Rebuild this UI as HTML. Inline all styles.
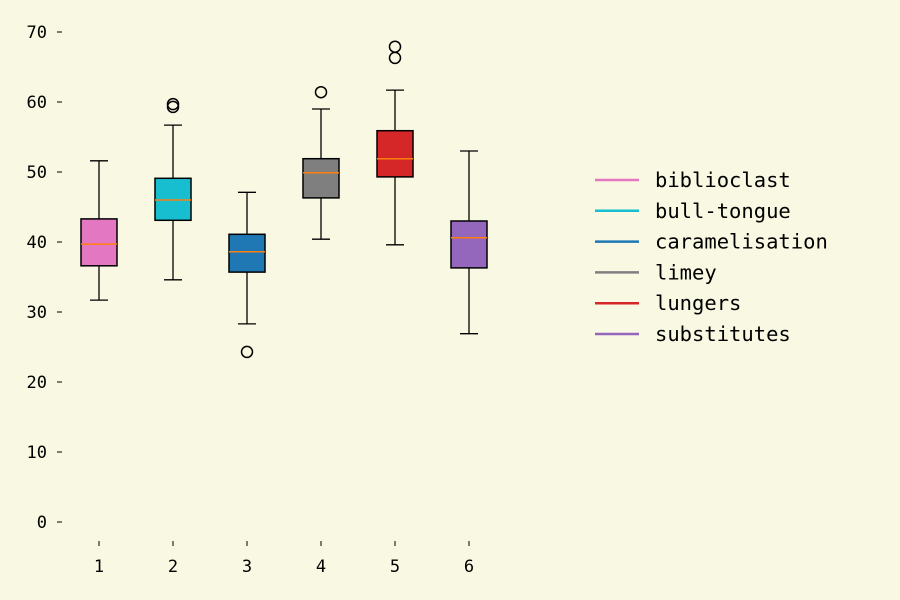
<!DOCTYPE html>
<html><head><meta charset="utf-8"><style>
body{margin:0;background:#f9f8e3;}
svg{display:block;font-family:"DejaVu Sans Mono","Liberation Mono",monospace;}
</style></head><body>
<svg id="chart" width="900" height="600"></svg>
<script>
const categories=[1,2,3,4,5,6];
const lowWhisker=[31.7,34.6,28.3,40.4,39.6,26.9];
const q1=[36.6,43.1,35.7,46.3,49.3,36.3];
const medians=[39.7,46.0,38.6,49.9,51.9,40.6];
const q3=[43.3,49.1,41.1,51.9,55.9,43.0];
const highWhisker=[51.6,56.7,47.1,59.0,61.7,53.0];
const outliers=[[],[59.7,59.3],[24.3],[61.4],[67.9,66.3],[]];
const seriesNames=["biblioclast","bull-tongue","caramelisation","limey","lungers","substitutes"];
const colors=["#e377c2","#17becf","#1f77b4","#7f7f7f","#d62728","#9467bd"];
const yTicks=[0,10,20,30,40,50,60,70];
const NS="http://www.w3.org/2000/svg";
const svg=document.getElementById('chart');
const y=v=>522-7*v;
const x=c=>99+(c-1)*74;
function mk(t,a,p){const e=document.createElementNS(NS,t);for(const k in a)e.setAttribute(k,a[k]);(p||svg).appendChild(e);return e;}
yTicks.forEach(t=>{
 const g=mk('g',{});
 
 
 mk('line',{x1:57,x2:62,y1:y(t),y2:y(t),stroke:'#000','stroke-width':1},g);
 const tx=mk('text',{x:47,y:y(t)+6,'text-anchor':'end','font-size':17},g);tx.textContent=t;
});
categories.forEach((c,i)=>{
 const g=mk('g',{});
 
 
 const cx=x(c),w=18;
 mk('line',{x1:cx,x2:cx,y1:y(q1[i]),y2:y(lowWhisker[i]),stroke:'#000','stroke-width':1.3},g);
 mk('line',{x1:cx,x2:cx,y1:y(q3[i]),y2:y(highWhisker[i]),stroke:'#000','stroke-width':1.3},g);
 mk('line',{x1:cx-9,x2:cx+9,y1:y(lowWhisker[i]),y2:y(lowWhisker[i]),stroke:'#000','stroke-width':1.3},g);
 mk('line',{x1:cx-9,x2:cx+9,y1:y(highWhisker[i]),y2:y(highWhisker[i]),stroke:'#000','stroke-width':1.3},g);
 mk('rect',{x:cx-w,y:y(q3[i]),width:2*w,height:y(q1[i])-y(q3[i]),fill:colors[i],stroke:'#000','stroke-width':1.5},g);
 mk('line',{x1:cx-w,x2:cx+w,y1:y(medians[i]),y2:y(medians[i]),stroke:'#ff7f0e','stroke-width':1.5},g);
 outliers[i].forEach(o=>mk('circle',{cx:cx,cy:y(o),r:5.5,fill:'none',stroke:'#000','stroke-width':1.5},g));
 mk('line',{x1:cx,x2:cx,y1:541,y2:546,stroke:'#000','stroke-width':1},g);
 const tx=mk('text',{x:cx,y:572,'text-anchor':'middle','font-size':17},g);tx.textContent=c;
});
seriesNames.forEach((n,i)=>{
 const g=mk('g',{});
 
 
 const yy=180+i*30.8;
 mk('line',{x1:595,x2:639,y1:yy,y2:yy,stroke:colors[i],'stroke-width':2.5},g);
 const tx=mk('text',{x:655,y:yy+7,'font-size':20.5},g);tx.textContent=n;
});
</script>
</body></html>
